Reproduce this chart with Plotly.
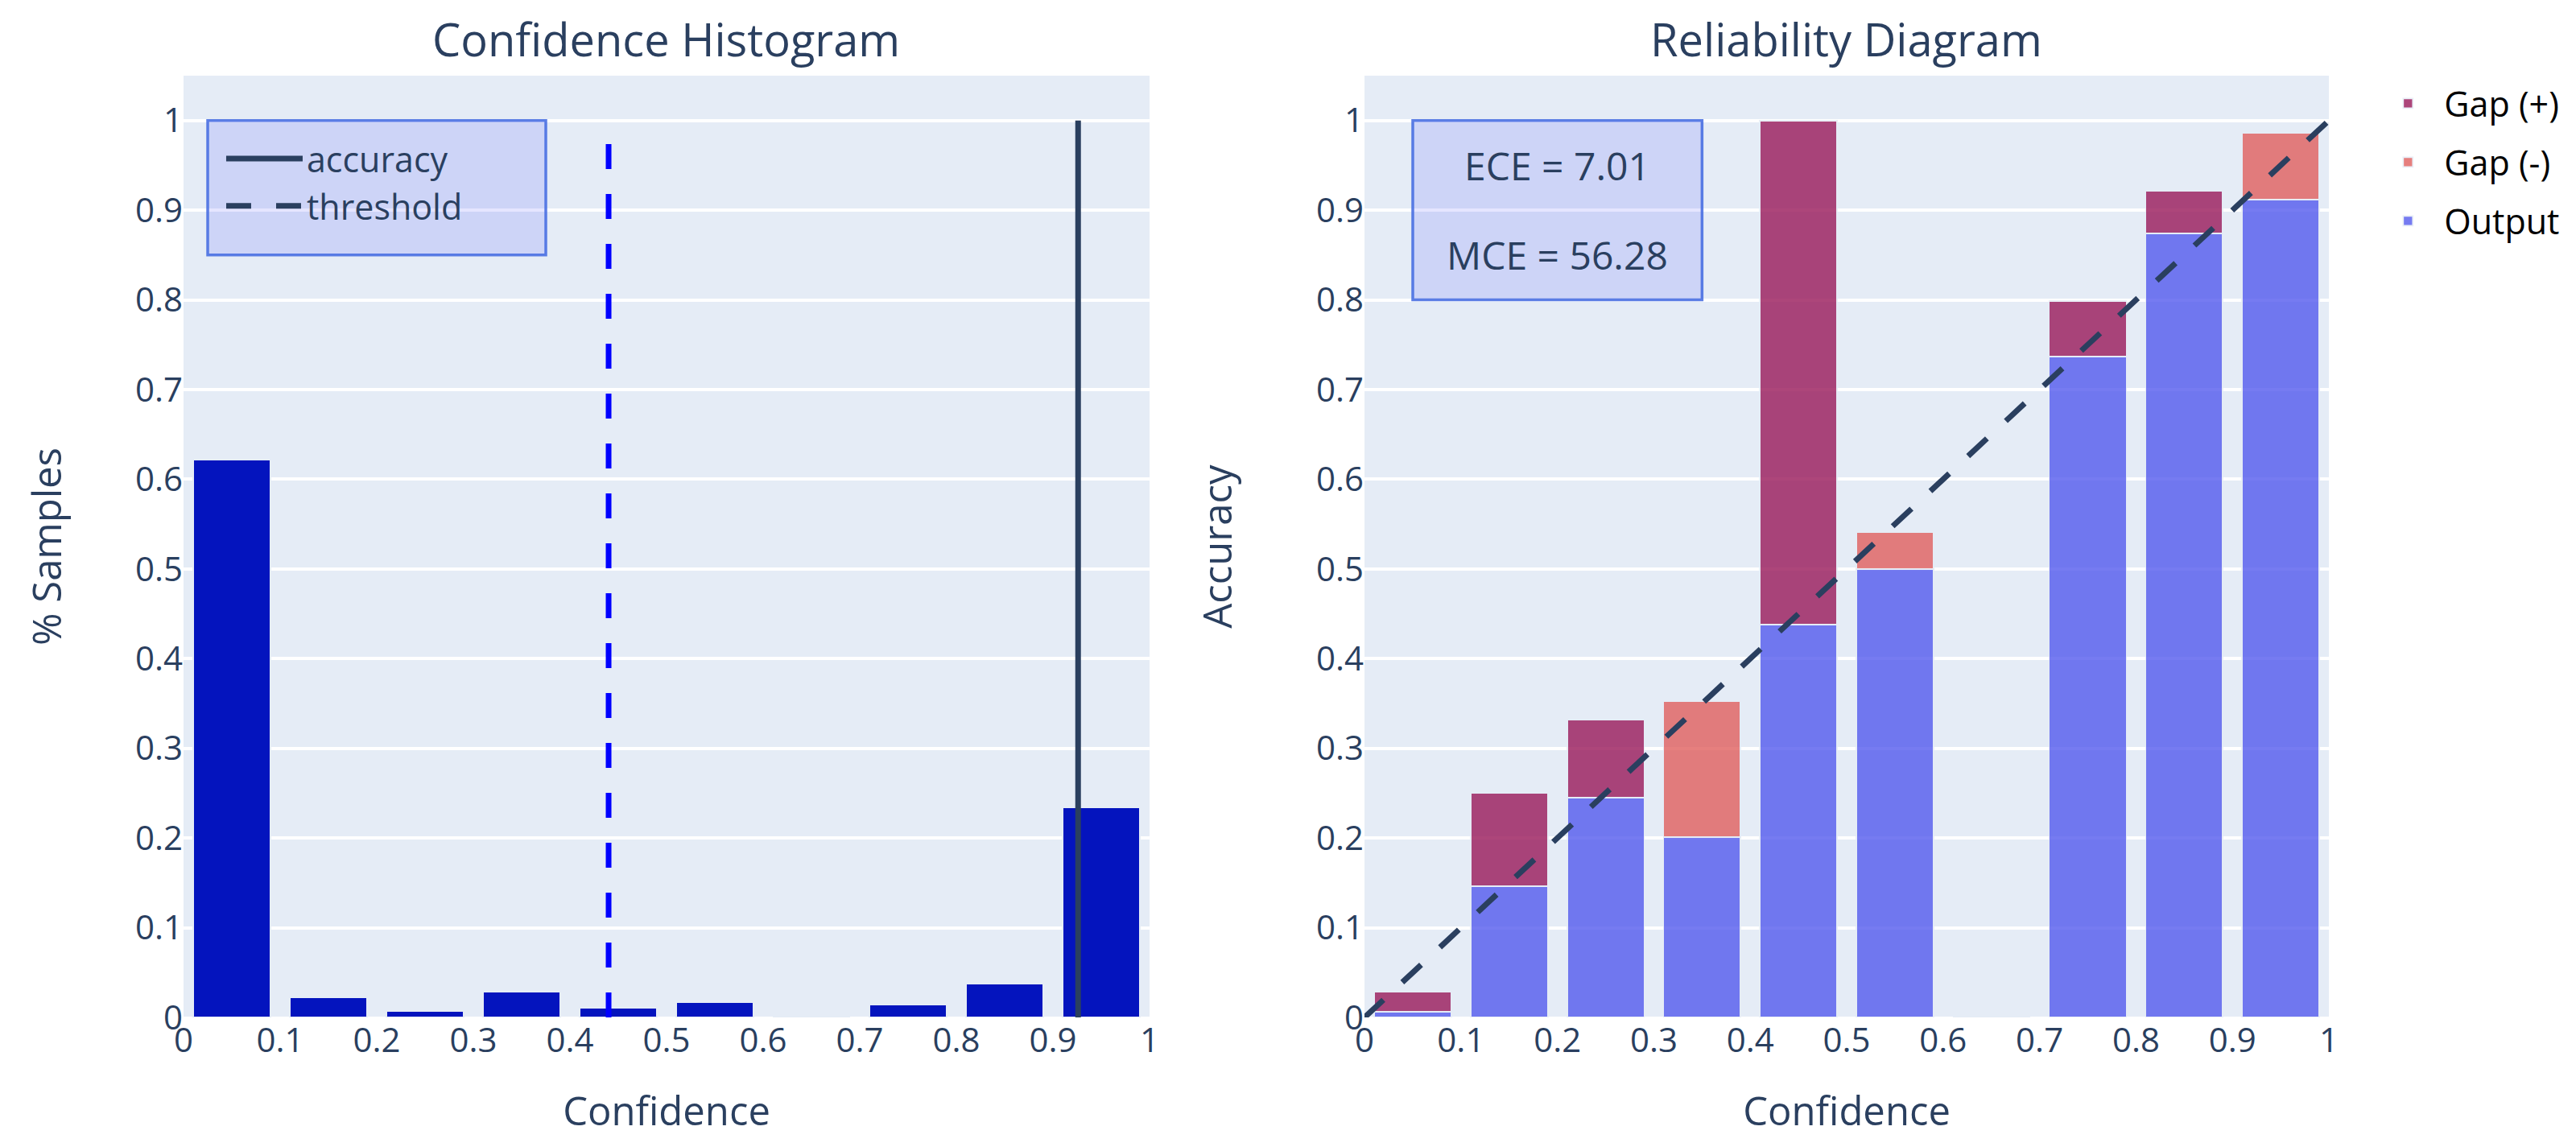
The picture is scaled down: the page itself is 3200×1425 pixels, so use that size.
import plotly.graph_objects as go
from plotly.subplots import make_subplots

# bin centres shared by both panels (10 bins of width 0.1)
bin_centers = [0.05, 0.15, 0.25, 0.35, 0.45, 0.55, 0.65, 0.75, 0.85, 0.95]

# confidence histogram
pct_samples = [0.622, 0.0225, 0.0075, 0.029, 0.011, 0.017, 0.0, 0.014, 0.0375, 0.234]
accuracy = 0.926
threshold = 0.44

# reliability diagram
output = [0.006, 0.146, 0.245, 0.201, 0.438, 0.5, 0.0, 0.737, 0.874, 0.912]
gap_pos = [0.023, 0.104, 0.087, 0.0, 0.562, 0.0, 0.0, 0.062, 0.048, 0.0]
gap_neg = [0.0, 0.0, 0.0, 0.152, 0.0, 0.041, 0.0, 0.0, 0.0, 0.074]
perfect = [0, 1]
ece = 7.01
mce = 56.28

DARK = "#2A3F5F"
BAR_LINE = dict(color="#E5ECF6", width=1.75)

fig = make_subplots(rows=1, cols=2,
                    subplot_titles=("Confidence Histogram", "Reliability Diagram"))
fig.update_annotations(font_size=56, yshift=6)

# ---- left panel
fig.add_trace(go.Bar(x=bin_centers, y=pct_samples, marker_color="#0414BE",
                     marker_line=BAR_LINE, showlegend=False), row=1, col=1)
fig.add_trace(go.Scatter(x=[accuracy, accuracy], y=[0, 1], mode="lines",
                         line=dict(color=DARK, width=7), showlegend=False),
              row=1, col=1)
fig.add_trace(go.Scatter(x=[threshold, threshold], y=[0, 1], mode="lines",
                         line=dict(color="blue", width=7, dash="31px,31px"),
                         showlegend=False), row=1, col=1)
# legend entries for the two vertical lines
fig.add_trace(go.Scatter(x=[None], y=[None], mode="lines", name="accuracy",
                         line=dict(color=DARK, width=7), legend="legend2"),
              row=1, col=1)
fig.add_trace(go.Scatter(x=[None], y=[None], mode="lines", name="threshold",
                         line=dict(color=DARK, width=7, dash="31px,31px"),
                         legend="legend2"), row=1, col=1)

# ---- right panel (stacked: output at the bottom, gap on top)
fig.add_trace(go.Bar(x=bin_centers, y=output, name="Output", legendgroup="out",
                     legendrank=3, marker_color="#545BEE", marker_line=BAR_LINE,
                     opacity=0.8), row=1, col=2)
fig.add_trace(go.Bar(x=bin_centers, y=gap_neg, name="Gap (-)", legendgroup="neg",
                     legendrank=2, marker_color="#E1605E", marker_line=BAR_LINE,
                     opacity=0.8), row=1, col=2)
fig.add_trace(go.Bar(x=bin_centers, y=gap_pos, name="Gap (+)", legendgroup="pos",
                     legendrank=1, marker_color="#99195A", marker_line=BAR_LINE,
                     opacity=0.8), row=1, col=2)
fig.add_trace(go.Scatter(x=perfect, y=perfect, mode="lines",
                         line=dict(color=DARK, width=7, dash="32px,32px"),
                         showlegend=False), row=1, col=2)

# boxes behind the legend and the ECE / MCE text
box_style = dict(type="rect", fillcolor="rgba(0,0,255,0.1)",
                 line=dict(color="rgba(65,105,225,0.85)", width=3.5), layer="above")
fig.add_shape(x0=0.025, x1=0.375, y0=0.85, y1=1.0, xref="x", yref="y", **box_style)
fig.add_shape(x0=0.05, x1=0.35, y0=0.8, y1=1.0, xref="x2", yref="y2", **box_style)

fig.add_annotation(x=0.2, y=0.95, xref="x2", yref="y2", text=f"ECE = {ece:.2f}",
                   showarrow=False, font=dict(size=48))
fig.add_annotation(x=0.2, y=0.85, xref="x2", yref="y2", text=f"MCE = {mce:.2f}",
                   showarrow=False, font=dict(size=48))

fig.update_xaxes(range=[0, 1], dtick=0.1, showgrid=False, title_text="Confidence",
                 tickfont_size=42, title_font_size=49, title_standoff=45)
fig.update_yaxes(range=[0, 1.05], dtick=0.1, gridwidth=3.5,
                 tickfont_size=42, title_font_size=49, title_standoff=75)
fig.update_xaxes(domain=[0, 0.4503], row=1, col=1)
fig.update_xaxes(domain=[0.5505, 1], row=1, col=2)
fig.update_yaxes(title_text="% Samples", row=1, col=1)
fig.update_yaxes(title_text="Accuracy", title_standoff=88, row=1, col=2)

fig.update_layout(
    width=3200, height=1425,
    margin=dict(l=220, r=315, t=86, b=169),
    font=dict(family="Open Sans"),
    barmode="stack",
    legend=dict(x=1.02, y=1, font=dict(size=43, color="black"), itemwidth=80,
                traceorder="grouped", tracegroupgap=14),
    legend2=dict(x=0.018, y=0.9415, xanchor="left", yanchor="top",
                 bgcolor="rgba(0,0,0,0)", font=dict(size=43), itemwidth=95,
                 traceorder="normal"),
)

fig.write_html("out.html")
